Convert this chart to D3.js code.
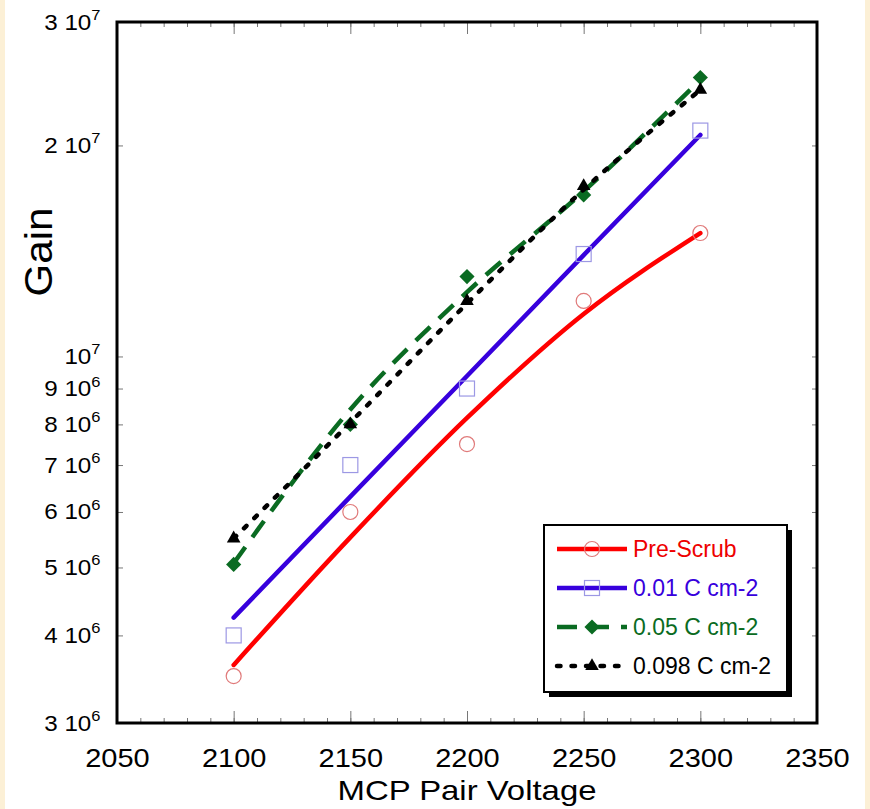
<!DOCTYPE html>
<html>
<head>
<meta charset="utf-8">
<script src="https://cdn.jsdelivr.net/npm/d3@7"></script>
<style>
  html, body { margin: 0; padding: 0; background: #fcf0d6; }
  svg { display: block; }
  text { font-family: "Liberation Sans", Arial, Helvetica, sans-serif; }
</style>
</head>
<body>
<div id="chart"></div>
<script>
// measured points
var voltages = [2100, 2150, 2200, 2250, 2300];
var preScrub = [3.5e6, 6.0e6, 7.5e6, 1.2e7, 1.5e7];
var c001 = [4.0e6, 7.0e6, 9.0e6, 1.4e7, 2.1e7];
var c005 = [5.05e6, 8.0e6, 1.3e7, 1.7e7, 2.5e7];
var c0098 = [5.5e6, 8.0e6, 1.2e7, 1.75e7, 2.4e7];

// fitted curves
var fitVoltages = [2100, 2150, 2200, 2250, 2300];
var preScrubFit = [3.63e6, 5.52e6, 8.17e6, 1.15e7, 1.5e7];
var c001Fit = [4.24e6, 6.31e6, 9.38e6, 1.395e7, 2.07e7];
var c005Fit = [5.07e6, 8.4e6, 1.235e7, 1.72e7, 2.48e7];
var c0098Fit = [5.5e6, 8.05e6, 1.19e7, 1.73e7, 2.4e7];

var seriesNames = ["Pre-Scrub", "0.01 C cm-2", "0.05 C cm-2", "0.098 C cm-2"];
var xTicks = [2050, 2100, 2150, 2200, 2250, 2300, 2350];
var yTicks = [3e6, 4e6, 5e6, 6e6, 7e6, 8e6, 9e6, 1e7, 2e7, 3e7];

var W = 870, H = 809;
var margin = {top: 22, right: 53, bottom: 86, left: 117};
var width = W - margin.left - margin.right,
    height = H - margin.top - margin.bottom;

var svg = d3.select("#chart").append("svg")
    .attr("width", W).attr("height", H);

// white page with cream edges
svg.append("rect").attr("x", 5).attr("y", 0).attr("width", W - 10).attr("height", H).attr("fill", "#fff");

var g = svg.append("g").attr("transform", "translate(" + margin.left + "," + margin.top + ")");

var x = d3.scaleLinear().domain([2050, 2350]).range([0, width]);
var y = d3.scaleLog().domain([3e6, 3e7]).range([height, 0]);

var tickColor = "#777";
var minorX = d3.range(2050, 2351, 10);

function styleTicks(sel) {
  sel.select(".domain").remove();
  sel.selectAll("line").attr("stroke", tickColor).attr("stroke-width", 1);
}

// bottom: minor then major
g.append("g").attr("transform", "translate(0," + height + ")")
  .call(d3.axisBottom(x).tickValues(minorX).tickSize(-5).tickFormat(""))
  .call(styleTicks);
var xAxis = g.append("g").attr("transform", "translate(0," + height + ")")
  .call(d3.axisBottom(x).tickValues(xTicks).tickSize(-12).tickPadding(26).tickFormat(d3.format("d")))
  .call(styleTicks);
xAxis.selectAll("text")
  .attr("fill", "#000")
  .style("font-size", "25px")
  .attr("transform", "scale(1.16,1)");

// top
g.append("g")
  .call(d3.axisTop(x).tickValues(minorX).tickSize(-5).tickFormat(""))
  .call(styleTicks);
g.append("g")
  .call(d3.axisTop(x).tickValues(xTicks).tickSize(-12).tickFormat(""))
  .call(styleTicks);

// left
var yAxis = g.append("g")
  .call(d3.axisLeft(y).tickValues(yTicks).tickSize(-6).tickPadding(0).tickFormat(""))
  .call(styleTicks);
yAxis.selectAll(".tick text").each(function(d) {
  var e = Math.floor(Math.log10(d) + 1e-9);
  var m = Math.round(d / Math.pow(10, e));
  var t = d3.select(this)
    .attr("x", -15).attr("dy", null).attr("y", 7)
    .attr("fill", "#000")
    .attr("text-anchor", "end")
    .attr("transform", "scale(1.1,1)")
    .style("font-size", "22px");
  t.append("tspan").text((m === 1 ? "" : m + " ") + "10");
  t.append("tspan").attr("dy", -9.5).style("font-size", "15px").text(e);
});

// right
g.append("g").attr("transform", "translate(" + width + ",0)")
  .call(d3.axisRight(y).tickValues(yTicks).tickSize(-5).tickFormat(""))
  .call(styleTicks);

// frame
g.append("rect").attr("width", width).attr("height", height)
  .attr("fill", "none").attr("stroke", "#000").attr("stroke-width", 3);

// series
var series = [
  {name: seriesNames[0], pts: preScrub, fit: preScrubFit, color: "#ff0000", text: "#ee0000",
   dash: null, cap: "round", marker: "circle", mColor: "#e07a7a"},
  {name: seriesNames[1], pts: c001, fit: c001Fit, color: "#3700dd", text: "#3700dd",
   dash: null, cap: "round", marker: "square", mColor: "#9c98e4"},
  {name: seriesNames[2], pts: c005, fit: c005Fit, color: "#0a6b22", text: "#0a6b22",
   dash: "20,12", cap: "butt", marker: "diamond", mColor: "#0a6b22"},
  {name: seriesNames[3], pts: c0098, fit: c0098Fit, color: "#000", text: "#000",
   dash: "3.5,11", cap: "round", marker: "triangle", mColor: "#000"}
];

var line = d3.line()
  .x(function(d) { return x(d[0]); })
  .y(function(d) { return y(d[1]); })
  .curve(d3.curveMonotoneX);

function drawMarker(sel, s, cx, cy) {
  if (s.marker === "circle") {
    sel.append("circle").attr("cx", cx).attr("cy", cy).attr("r", 7.5)
      .attr("fill", "none").attr("stroke", s.mColor).attr("stroke-width", 1.2);
  } else if (s.marker === "square") {
    sel.append("rect").attr("x", cx - 7.5).attr("y", cy - 7.5).attr("width", 15).attr("height", 15)
      .attr("fill", "none").attr("stroke", s.mColor).attr("stroke-width", 1.2);
  } else if (s.marker === "diamond") {
    sel.append("path").attr("d", d3.symbol().type(d3.symbolSquare).size(115)())
      .attr("transform", "translate(" + cx + "," + cy + ") rotate(45)")
      .attr("fill", s.mColor);
  } else {
    sel.append("path").attr("d", d3.symbol().type(d3.symbolTriangle).size(80)())
      .attr("transform", "translate(" + cx + "," + cy + ")")
      .attr("fill", s.mColor);
  }
}

series.forEach(function(s) {
  g.append("path")
    .datum(fitVoltages.map(function(v, i) { return [v, s.fit[i]]; }))
    .attr("d", line)
    .attr("fill", "none")
    .attr("stroke", s.color)
    .attr("stroke-width", 4.5)
    .attr("stroke-linecap", s.cap)
    .attr("stroke-dasharray", s.dash);
  var mg = g.append("g");
  voltages.forEach(function(v, i) { drawMarker(mg, s, x(v), y(s.pts[i])); });
});

// legend
var lg = svg.append("g").attr("transform", "translate(544,525)");
lg.append("rect").attr("x", 5).attr("y", 5).attr("width", 243).attr("height", 167).attr("fill", "#000");
lg.append("rect").attr("width", 243).attr("height", 167).attr("fill", "#fff")
  .attr("stroke", "#000").attr("stroke-width", 2);
series.forEach(function(s, i) {
  var ry = 24 + i * 39;
  lg.append("line").attr("x1", 13).attr("x2", 83).attr("y1", ry).attr("y2", ry)
    .attr("stroke", s.color).attr("stroke-width", 4.5)
    .attr("stroke-linecap", s.dash ? s.cap : "butt")
    .attr("stroke-dasharray", s.dash);
  drawMarker(lg, s, 48, ry);
  lg.append("text").attr("x", 89).attr("y", ry + 8.3)
    .attr("fill", s.text).style("font-size", "23px").text(s.name);
});

// axis titles
svg.append("text")
  .attr("x", 467).attr("y", 800)
  .attr("text-anchor", "middle")
  .attr("textLength", 259).attr("lengthAdjust", "spacingAndGlyphs")
  .style("font-size", "28px")
  .text("MCP Pair Voltage");

svg.append("text")
  .attr("transform", "translate(52,252) rotate(-90)")
  .attr("text-anchor", "middle")
  .attr("textLength", 89).attr("lengthAdjust", "spacingAndGlyphs")
  .style("font-size", "38px")
  .text("Gain");
</script>
</body>
</html>
